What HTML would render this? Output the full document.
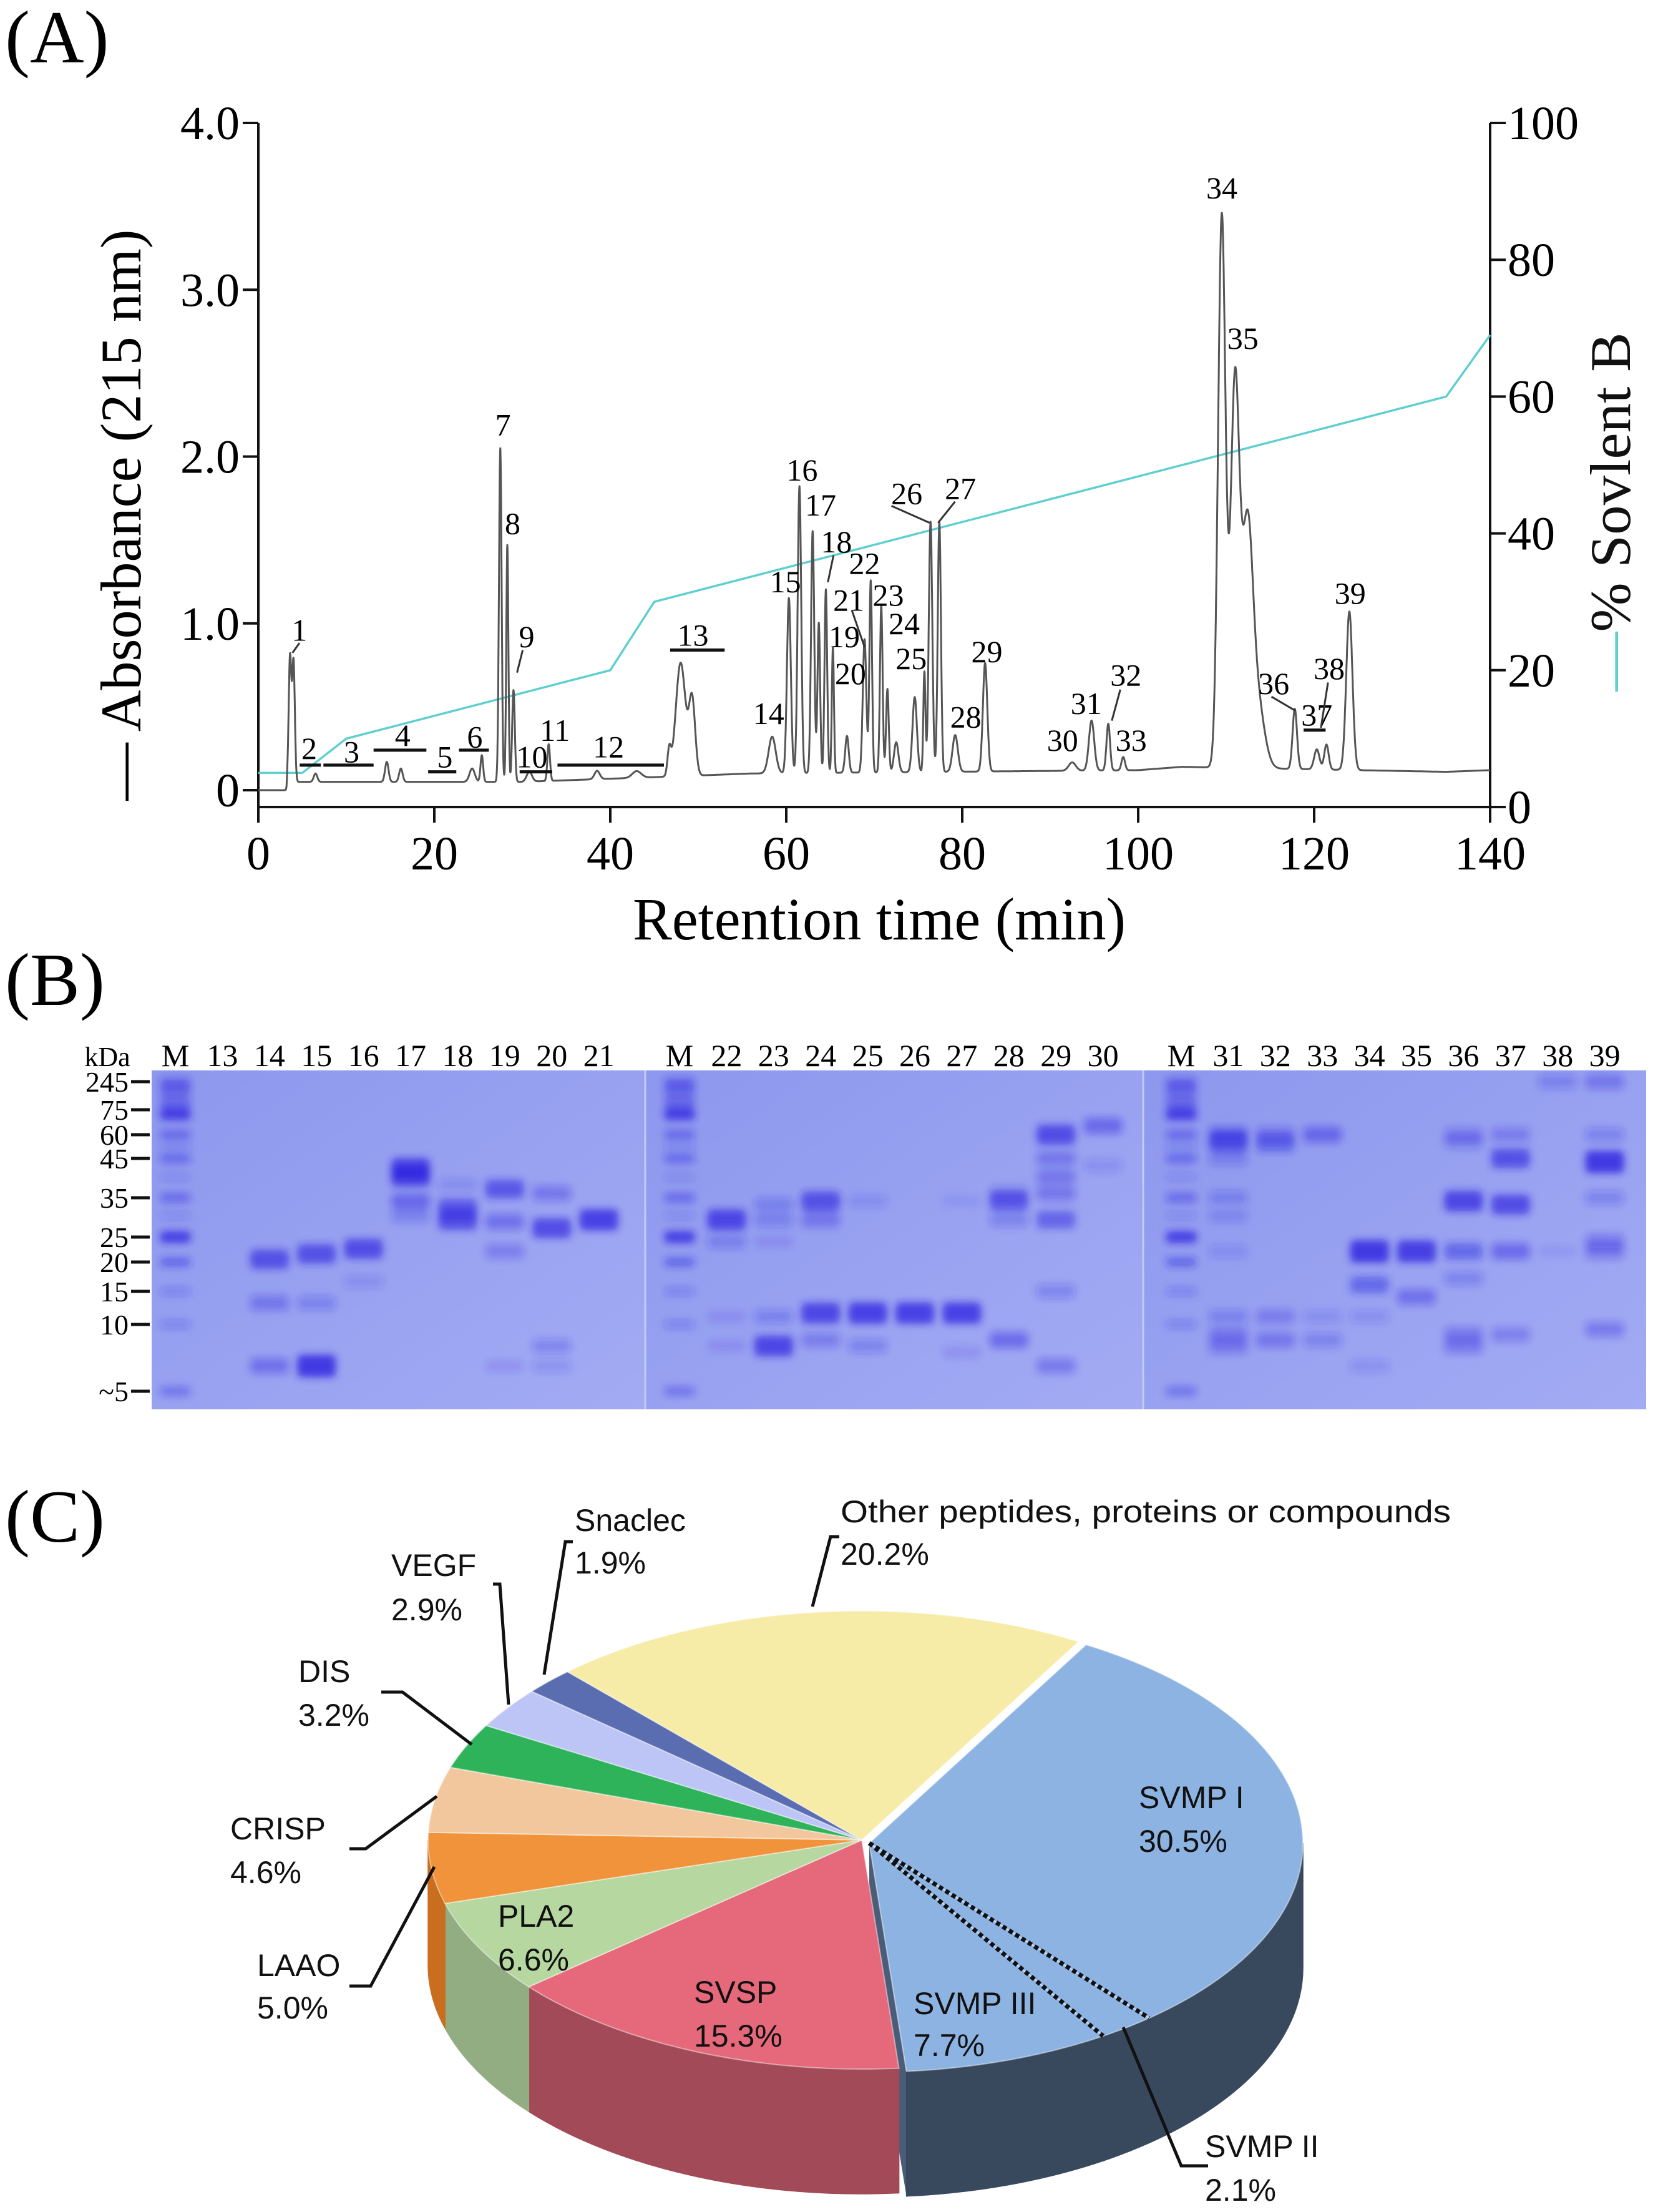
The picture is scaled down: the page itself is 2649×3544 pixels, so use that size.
<!DOCTYPE html>
<html><head><meta charset="utf-8"><style>
html,body{margin:0;padding:0;background:#fff;}
svg{display:block;}
.serif{font-family:"Liberation Serif",serif;}
.sans{font-family:"Liberation Sans",sans-serif;}
</style></head>
<body>
<svg id="fig" width="2649" height="3544" viewBox="0 0 2649 3544" xmlns="http://www.w3.org/2000/svg">
<defs>
<filter id="blur" x="-50%" y="-100%" width="200%" height="300%"><feGaussianBlur stdDeviation="6"/></filter>
<linearGradient id="gelbg" x1="0" y1="0" x2="1" y2="1"><stop offset="0" stop-color="#8d98ee"/><stop offset="1" stop-color="#a2abf3"/></linearGradient>
</defs>
<g id="panelA"></g>
<g id="panelB"></g>
<g id="panelC"></g>
</svg>
<script>
// ---------- Panel A data ----------
const peakTimes = [3.6,4.0,6.5,14.6,16.2,24.3,25.4,27.5,28.3,29.0,30.8,33.0,38.5,43,46.7,48.0,49.3,58.4,60.3,61.5,63.0,63.7,64.5,65.3,66.9,68.9,69.6,70.8,71.5,72.5,74.6,75.7,76.4,77.4,79.2,82.6,92.5,94.7,96.6,98.3,109.5,111.0,112.4,113.5,117.8,120.3,121.4,124.0];
const peakHeights = [0.75,0.72,0.05,0.12,0.08,0.08,0.16,2.0,1.42,0.55,0.06,0.22,0.05,0.04,0.15,0.68,0.45,0.22,1.05,1.72,1.45,0.9,1.1,0.75,0.22,0.8,1.15,1.0,0.5,0.18,0.45,0.6,1.5,1.5,0.22,0.65,0.05,0.3,0.28,0.08,3.3,2.3,1.35,0.4,0.36,0.12,0.15,0.95];
const peakWidths = [0.15,0.15,0.2,0.2,0.2,0.3,0.15,0.15,0.12,0.15,0.3,0.15,0.3,0.5,0.2,0.55,0.35,0.4,0.22,0.2,0.18,0.15,0.15,0.12,0.2,0.2,0.15,0.15,0.15,0.25,0.25,0.12,0.2,0.18,0.3,0.25,0.4,0.3,0.2,0.2,0.42,0.5,0.6,0.8,0.25,0.3,0.25,0.35];
const baseT = [0,3.2,3.3,30,46,56,100,105,135,140];
const baseV = [0,0,0.05,0.05,0.08,0.10,0.12,0.14,0.11,0.12];
const gradT = [0,5,10,40,45,135,140];
const gradB = [5,5,10,20,30,60,69];
const xTicks = [0,20,40,60,80,100,120,140];
const yTicksL = [0,1,2,3,4];
const yTickLabelsL = ["0","1.0","2.0","3.0","4.0"];
const yTicksR = [0,20,40,60,80,100];
const peakLabels = ["1","2","3","4","5","6","7","8","9","10","11","12","13","14","15","16","17","18","19","20","21","22","23","24","25","26","27","28","29","30","31","32","33","34","35","36","37","38","39"];
const peakLabelT = [4.66,5.78,10.6,16.4,21.2,24.6,27.8,28.9,30.5,31.1,33.7,39.8,49.4,58.0,59.9,61.8,63.9,65.7,66.6,67.3,67.1,68.9,71.6,73.4,74.2,73.7,79.8,80.4,82.8,91.4,94.1,98.6,99.2,109.5,111.9,115.4,120.3,121.7,124.1];
const peakLabelA = [0.96,0.25,0.23,0.33,0.20,0.32,2.19,1.60,0.92,0.20,0.36,0.26,0.93,0.46,1.25,1.92,1.71,1.49,0.92,0.70,1.14,1.36,1.17,1.00,0.79,1.78,1.81,0.44,0.83,0.30,0.52,0.69,0.30,3.61,2.71,0.64,0.45,0.73,1.18];
const fracStart = [4.7,7.4,13.1,19.3,22.8,29.7,34.0,46.8,118.8];
const fracEnd = [7.1,13.1,19.1,22.5,26.2,33.4,46.1,53.0,121.3];
const fracLevel = [0.15,0.15,0.24,0.11,0.24,0.11,0.15,0.84,0.36];

// ---------- Panel B data ----------
const markerLabels = ["245","75","60","45","35","25","20","15","10","~5"];
const markerKDa = [245,75,60,45,35,25,20,15,10,5];
const gelLanes = [["M","13","14","15","16","17","18","19","20","21"],["M","22","23","24","25","26","27","28","29","30"],["M","31","32","33","34","35","36","37","38","39"]];
const ladderBands = [[245,.45],[200,.4],[170,.4],[130,.35],[100,.4],[85,.35],[72,.9],[60,.5],[52,.25],[45,.5],[40,.2],[35,.5],[30,.2],[25,.9],[20,.55],[15,.3],[10,.3],[5,.45]];
const laneBands = {
 "13":[],
 "14":[[20.5,.75],[13,.4],[6.5,.45]],
 "15":[[21.5,.75],[13,.3],[6.5,1.0]],
 "16":[[22.5,.8],[16.5,.2]],
 "17":[[42,.95],[40,.8],[34,.5],[30,.3]],
 "18":[[38,.2],[32,.7],[29,.8]],
 "19":[[37,.7],[28.5,.45],[22,.35],[6.5,.15]],
 "20":[[36,.4],[27,.8],[8,.3],[6.5,.2]],
 "21":[[29,.9]],
 "22":[[29,.85],[24,.3],[11,.15],[8,.15]],
 "23":[[33,.3],[29,.3],[24,.15],[11,.3],[8,.85]],
 "24":[[34,.75],[29,.4],[11.5,.85],[8.5,.35]],
 "25":[[34,.2],[11.5,.9],[8,.3]],
 "26":[[11.5,.9]],
 "27":[[34,.1],[11.5,.9],[7.5,.15]],
 "28":[[36,.3],[34,.7],[29,.3],[8.5,.5]],
 "29":[[60,.8],[45,.4],[40,.4],[36,.4],[29,.6],[15,.3],[6.5,.4]],
 "30":[[65,.5],[43,.2]],
 "31":[[60,.5],[55,.75],[45,.3],[35,.3],[30,.25],[22,.2],[11,.3],[9,.4],[8,.4]],
 "32":[[60,.4],[54,.55],[11,.35],[8.5,.4]],
 "33":[[60,.5],[11,.2],[8.5,.3]],
 "34":[[22,1.0],[16,.55],[11,.2],[6.5,.2]],
 "35":[[22,.95],[14,.45]],
 "36":[[60,.35],[55,.3],[34,.85],[22,.55],[17,.3],[9,.4],[8,.4]],
 "37":[[60,.35],[45,.75],[33,.8],[22,.5],[9,.35]],
 "38":[[245,.3],[22,.1]],
 "39":[[245,.4],[60,.3],[44,1.0],[35,.3],[24,.4],[22,.4],[9.5,.4]]
};

// ---------- Panel C data ----------
const pieNames = ["SVMP I","SVMP II","SVMP III","SVSP","PLA2","LAAO","CRISP","DIS","VEGF","Snaclec","Other peptides, proteins or compounds"];
const piePercents = [30.5,2.1,7.7,15.3,6.6,5.0,4.6,3.2,2.9,1.9,20.2];

// ================= rendering =================
const NS="http://www.w3.org/2000/svg";
function mk(tag,attrs,parent,text){const e=document.createElementNS(NS,tag);for(const k in attrs)e.setAttribute(k,attrs[k]);if(text!==undefined)e.textContent=text;parent.appendChild(e);return e;}

// ---- Panel A ----
const A=document.getElementById('panelA');
const X0=414,X1=2388,YA0=1266,YA4=197,YR0=1293,YR100=197;
const xs=t=>X0+t*(X1-X0)/140;
const ys=a=>YA0-a*(YA0-YA4)/4;
const yr=p=>YR0-p*(YR0-YR100)/100;
function interp(xa,ya,x){for(let i=0;i<xa.length-1;i++){if(x>=xa[i]&&x<=xa[i+1]){return ya[i]+(ya[i+1]-ya[i])*(x-xa[i])/(xa[i+1]-xa[i]);}}return ya[ya.length-1];}

let t0=mk('text',{x:8,y:100,'font-size':120,class:'serif'},A,'(A)');



let ax=mk('path',{d:`M${X0},${YA4} L${X0},${YR0} L${X1},${YR0} M${X1},${YR100} L${X1},${YR0}`,stroke:'#111',fill:'none','stroke-width':4},A);


xTicks.forEach(v=>{
 const tk=mk('line',{x1:xs(v),x2:xs(v),y1:YR0,y2:YR0+25,stroke:'#111','stroke-width':4},A);
 
 
 const lb=mk('text',{x:xs(v),y:YR0+100,'font-size':76,'text-anchor':'middle',class:'serif'},A,String(v));
 
 
});
yTicksL.forEach((v,i)=>{
 const tk=mk('line',{x1:X0-25,x2:X0,y1:ys(v),y2:ys(v),stroke:'#111','stroke-width':4},A);
 
 
 const lb=mk('text',{x:X0-30,y:ys(v)+26,'font-size':76,'text-anchor':'end',class:'serif'},A,yTickLabelsL[i]);
 
 
});
yTicksR.forEach(v=>{
 const tk=mk('line',{x1:X1,x2:X1+25,y1:yr(v),y2:yr(v),stroke:'#111','stroke-width':4},A);
 
 
 const lb=mk('text',{x:X1+28,y:yr(v)+26,'font-size':76,class:'serif'},A,String(v));
 
 
});
let xt=mk('text',{x:(X0+X1)/2+8,y:1505,'font-size':96,'text-anchor':'middle',class:'serif',textLength:790,lengthAdjust:'spacingAndGlyphs'},A,'Retention time (min)');


let ylt=mk('text',{x:0,y:0,'font-size':92,'text-anchor':'middle',class:'serif',transform:'translate(225,825) rotate(-90)',textLength:915,lengthAdjust:'spacingAndGlyphs'},A,'— Absorbance (215 nm)');


let yrt=mk('text',{x:0,y:0,'font-size':92,'text-anchor':'middle',class:'serif',transform:'translate(2612,820) rotate(-90)',textLength:575,lengthAdjust:'spacingAndGlyphs'},A);


mk('tspan',{fill:'#5fcfd0'},yrt,'—');
mk('tspan',{fill:'#111'},yrt,'% Sovlent B');

let gp='';gradT.forEach((t,i)=>{gp+=(i?'L':'M')+xs(t).toFixed(1)+','+yr(gradB[i]).toFixed(1);});
let gl=mk('path',{d:gp,stroke:'#5fcfd0','stroke-width':3.5,fill:'none'},A);



let tp='';
for(let k=0;k<=7000;k++){
 const t=k*0.02;let a=interp(baseT,baseV,t);
 for(let j=0;j<peakTimes.length;j++){const d=(t-peakTimes[j])/peakWidths[j];if(Math.abs(d)<8)a+=peakHeights[j]*Math.exp(-0.5*d*d);}
 tp+=(k?'L':'M')+xs(t).toFixed(1)+','+ys(a).toFixed(1);
}
let tr=mk('path',{d:tp,stroke:'#555','stroke-width':3,fill:'none','stroke-linejoin':'round'},A);



peakLabels.forEach((s,i)=>{
 const lb=mk('text',{x:xs(peakLabelT[i]),y:ys(peakLabelA[i])+17,'font-size':50,'text-anchor':'middle',class:'serif'},A,s);
 
 
});
fracStart.forEach((s,i)=>{
 const ln=mk('line',{x1:xs(s),x2:xs(fracEnd[i]),y1:ys(fracLevel[i]),y2:ys(fracLevel[i]),stroke:'#111','stroke-width':5},A);
 
 
});
[[212,455,207,462],[370,460,366,476],[631,358,658,370],[676,355,664,370],[793,488,787,510],[900,493,917,503],[940,483,935,515],[590,393,586,412],[603,432,612,458]].forEach(p=>{
 const ln=mk('line',{x1:p[0]*2.264,y1:p[1]*2.264,x2:p[2]*2.264,y2:p[3]*2.264,stroke:'#333','stroke-width':3},A);
 
 
});

// ---- Panel B ----
const B=document.getElementById('panelB');
let bl=mk('text',{x:8,y:1610,'font-size':120,class:'serif'},B,'(B)');


const markerY=[1733,1778,1818,1856,1919,1982,2022,2069,2122,2229];
function kdaY(k){const L=Math.log(k);for(let i=0;i<markerKDa.length-1;i++){const a=Math.log(markerKDa[i]),b=Math.log(markerKDa[i+1]);if(L<=a&&L>=b)return markerY[i]+(markerY[i+1]-markerY[i])*(a-L)/(a-b);}return L>Math.log(245)?markerY[0]:markerY[markerY.length-1];}
const gelX=[[243,1034],[1034,1832],[1832,2638]];
const gelFirst=[281,1089,1893];
gelX.forEach((g,gi)=>{
 const r=mk('rect',{x:g[0],y:1715,width:g[1]-g[0],height:543,fill:'url(#gelbg)'},B);
 
 
});
[1034,1832].forEach(x=>{
 const s=mk('line',{x1:x,x2:x,y1:1715,y2:2258,stroke:'#c4caf8','stroke-width':3},B);
 
 
});
const bandG=mk('g',{filter:'url(#blur)'},B);


gelLanes.forEach((lanes,gi)=>{
 lanes.forEach((ln,li)=>{
  const cx=gelFirst[gi]+li*75.4;
  const lb=mk('text',{x:cx,y:1708,'font-size':50,'text-anchor':'middle',class:'serif'},B,ln);
  
  
  const bands= ln==='M'?ladderBands:laneBands[ln];
  bands.forEach(b=>{
   const h=ln==='M'?10+b[1]*10:16+b[1]*20;
   const w=ln==='M'?50:62;
   const rc=mk('rect',{x:cx-w/2,y:kdaY(b[0])-h/2,width:w,height:h,rx:8,fill:'#2a1fe0','fill-opacity':(b[1]*0.8).toFixed(2)},bandG);
   
   
  });
 });
});
let kd=mk('text',{x:172,y:1708,'font-size':44,'text-anchor':'middle',class:'serif'},B,'kDa');


markerLabels.forEach((s,i)=>{
 const y=kdaY(markerKDa[i]);
 const tk=mk('line',{x1:210,x2:240,y1:y,y2:y,stroke:'#111','stroke-width':5},B);
 
 
 const lb=mk('text',{x:206,y:y+16,'font-size':46,'text-anchor':'end',class:'serif'},B,s);
 
 
});

// ---- Panel C ----
const C=document.getElementById('panelC');
let cl=mk('text',{x:8,y:2470,'font-size':120,class:'serif'},C,'(C)');


const topCol=['#8db3e2','#8db3e2','#8db3e2','#e5697a','#b6d7a0','#f0933a','#f3c79e','#2fb35a','#bcc5f5','#5a6db0','#f6eba7'];
const sideCol=['#38495e','#38495e','#38495e','#a24a57','#93ad83','#c96e1e','#d8a87e','#1f8a44','#9aa3d8','#44548e','#d6c887'];
const CX=1381,CY=2948,RX=695,RY=367,DEP=200;
const group=[1,1,1,0,0,0,0,0,0,0,0];
const OFF=[12,5];
const pt=(a,o,d)=>[CX+o[0]+RX*Math.cos(a*Math.PI/180),CY+o[1]+(d||0)+RY*Math.sin(a*Math.PI/180)];
let ang=-60;const ranges=[];
piePercents.forEach(p=>{const a2=ang+p*3.6;ranges.push([ang,a2]);ang=a2;});
const sides=mk('g',{},C);
const tops=mk('g',{},C);
{
 const o=OFF;const a=ranges[2][1];const p=pt(a,o);const pb=pt(a,o,DEP);
 const f=mk('path',{d:`M${CX+o[0]},${CY+o[1]} L${p[0]},${p[1]} L${pb[0]},${pb[1]} L${CX+o[0]},${CY+o[1]+DEP} Z`,fill:'#4a5d78'},sides);
 
 
}
ranges.forEach((r,i)=>{
 const o=group[i]?OFF:[0,0];
 let a1=r[0],a2=r[1];
 let s=Math.max(a1,0),e=Math.min(a2,180);
 if(a1>=180){s=Math.max(a1,360);e=Math.min(a2,540);}
 if(e>s){
  const p1=pt(s,o),p2=pt(e,o),q2=pt(e,o,DEP),q1=pt(s,o,DEP);
  const sd=mk('path',{d:`M${p1[0]},${p1[1]} A${RX},${RY} 0 0 1 ${p2[0]},${p2[1]} L${q2[0]},${q2[1]} A${RX},${RY} 0 0 0 ${q1[0]},${q1[1]} Z`,fill:sideCol[i],stroke:sideCol[i],'stroke-width':1.5},sides);
  
  
 }
 const p1=pt(a1,o),p2=pt(a2,o);const large=(a2-a1)>180?1:0;
 const tp=mk('path',{d:`M${CX+o[0]},${CY+o[1]} L${p1[0]},${p1[1]} A${RX},${RY} 0 ${large} 1 ${p2[0]},${p2[1]} Z`,fill:topCol[i],stroke:'rgba(255,255,255,0.45)','stroke-width':2},tops);
 
 
});
[ranges[0][1],ranges[1][1]].forEach(a=>{
 const p=pt(a,OFF);
 const dl=mk('line',{x1:CX+OFF[0],y1:CY+OFF[1],x2:p[0],y2:p[1],stroke:'#111','stroke-width':7,'stroke-dasharray':'7 5'},C);
 
 
});
const labelPos=[[1825,2880],[1931,3439],[1464,3210],[1112,3192],[798,3070],[412,3149],[369,2930],[478,2678],[627,2508],[921,2436],[1347,2422]];
const pctPos=[[1825,2950],[1931,3509],[1464,3277],[1112,3262],[798,3140],[412,3217],[369,3000],[478,2748],[627,2579],[921,2504],[1347,2490]];
pieNames.forEach((n,i)=>{
 const a={x:labelPos[i][0],y:labelPos[i][1]+17,'font-size':50,class:'sans',fill:'#111'};
 if(i===10){a.textLength=978;a.lengthAdjust='spacingAndGlyphs';}
 const t=mk('text',a,C,n);
 
 
 const p=mk('text',{x:pctPos[i][0],y:pctPos[i][1]+17,'font-size':50,class:'sans',fill:'#111'},C,piePercents[i].toFixed(1)+'%');
 
 
});
[[[1345,2462],[1331,2462],[1302,2574]],[[918,2470],[906,2470],[872,2683]],[[790,2538],[801,2538],[815,2731]],[[611,2711],[645,2711],[756,2795]],[[560,2962],[586,2962],[700,2878]],[[560,3182],[594,3182],[696,2991]],[[1800,3248],[1893,3470],[1936,3470]]].forEach(l=>{
 const pl=mk('polyline',{points:l.map(p=>p.join(',')).join(' '),fill:'none',stroke:'#111','stroke-width':5},C);
 
 
});
</script>
</body></html>
